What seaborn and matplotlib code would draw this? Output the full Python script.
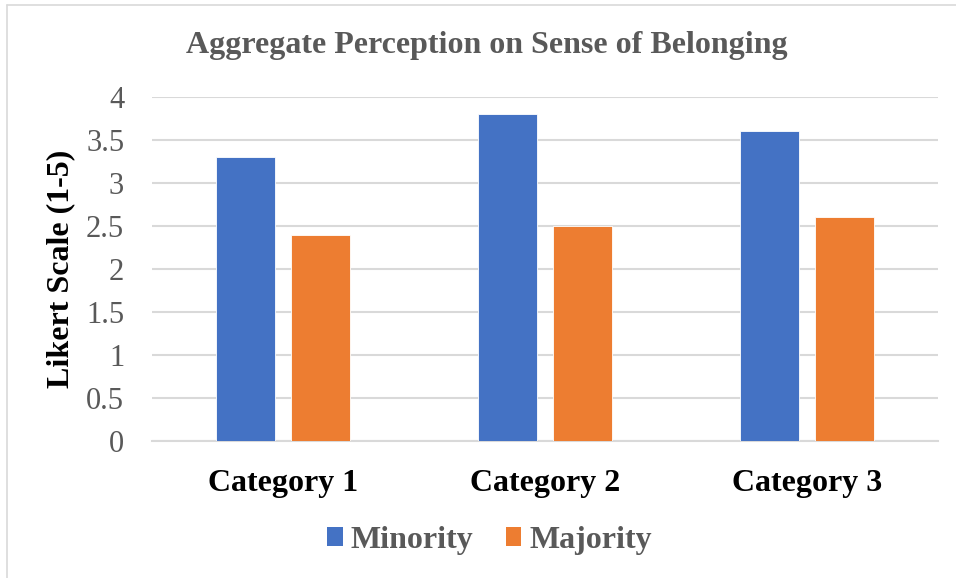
import pandas as pd
import matplotlib.pyplot as plt
from matplotlib.lines import Line2D
from matplotlib.patches import Patch
import seaborn as sns

# ── Data ──────────────────────────────────────────────────────────────────────
categories = ['Category 1', 'Category 2', 'Category 3']
minority = [3.3, 3.8, 3.6]
majority = [2.4, 2.5, 2.6]
groups = ['Minority', 'Majority']
y_ticks = [0, 0.5, 1, 1.5, 2, 2.5, 3, 3.5, 4]
y_tick_labels = ['0', '0.5', '1', '1.5', '2', '2.5', '3', '3.5', '4']

df = pd.DataFrame({
    'category': categories * 2,
    'group': [groups[0]] * 3 + [groups[1]] * 3,
    'value': minority + majority,
})

colors = {'Minority': '#4472C4', 'Majority': '#ED7D31'}
grey = '#595959'
serif = ['Liberation Serif', 'DejaVu Serif']

# ── Figure ────────────────────────────────────────────────────────────────────
sns.set_theme(style='white')
plt.rcParams['font.family'] = serif

fig = plt.figure(figsize=(9.56, 5.78), dpi=100)
ax = fig.add_axes([0.159, 0.237, 0.822, 0.595])

sns.barplot(data=df, x='category', y='value', hue='group', palette=colors,
            saturation=1, width=0.573, gap=0.21, legend=False, ax=ax, zorder=3)
for p in ax.patches:
    p.set_edgecolor('white')
    p.set_linewidth(0.6)

ax.set_ylim(0, 4)
ax.set_xlim(-0.5, 2.5)
ax.set_yticks(y_ticks)
ax.set_yticklabels(y_tick_labels)
ax.yaxis.grid(True, color='#D9D9D9', linewidth=1.5, zorder=0)
ax.set_axisbelow(True)
for s in ['top', 'right', 'left']:
    ax.spines[s].set_visible(False)
ax.spines['bottom'].set_color('#D9D9D9')
ax.spines['bottom'].set_linewidth(1.5)

ax.tick_params(axis='y', labelsize=22, labelcolor=grey, length=0, pad=20)
ax.tick_params(axis='x', labelsize=23, length=0, pad=20)
for lbl in ax.get_xticklabels():
    lbl.set_fontweight('bold')
    lbl.set_color('black')

ax.set_xlabel('')
ax.set_ylabel('Likert Scale (1-5)', fontsize=23, fontweight='bold', color='black', labelpad=8)

fig.text(0.509, 0.922, 'Aggregate Perception on Sense of Belonging',
         ha='center', va='center', fontsize=23, fontweight='bold', color=grey)

handles = [Patch(facecolor=colors[g], edgecolor='none') for g in groups]
fig.legend(handles, groups, loc='center', bbox_to_anchor=(0.512, 0.065), ncol=2,
           frameon=False, prop={'family': serif, 'size': 23, 'weight': 'bold'},
           labelcolor=grey, handlelength=0.5, handleheight=0.5,
           handletextpad=0.25, columnspacing=1.0)

# chart-area border (top and left edges visible)
fig.add_artist(Line2D([7 / 956, 1], [1 - 5 / 578] * 2, transform=fig.transFigure,
                      color='#D9D9D9', linewidth=1.2))
fig.add_artist(Line2D([7 / 956] * 2, [0, 1 - 5 / 578], transform=fig.transFigure,
                      color='#D9D9D9', linewidth=1.2))

fig.savefig('out.png', dpi=100)
